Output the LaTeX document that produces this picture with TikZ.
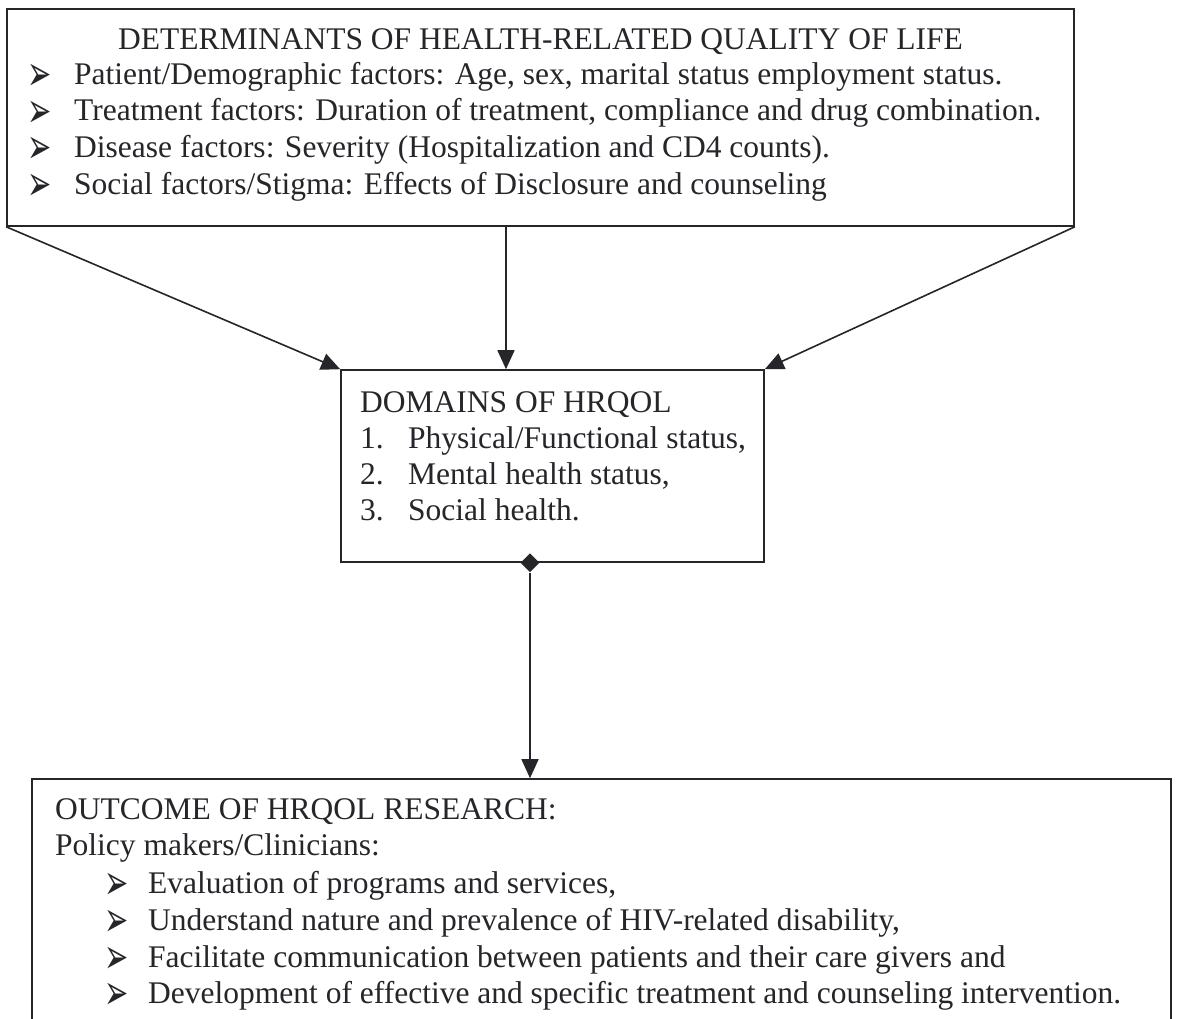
\documentclass[tikz,border=0pt]{standalone}
\usepackage{fontspec}
\setmainfont{Liberation Serif}
\newfontfamily\dejavu{DejaVu Sans}
\usetikzlibrary{arrows.meta,shapes.geometric}
\definecolor{ink}{RGB}{38,38,42}
\newcommand{\arrbul}{\smash{\scalebox{1}[1.7]{➢}}}
\begin{document}
\begin{tikzpicture}[x=1pt,y=-1pt,
  box/.style={draw=ink, line width=1.6pt, inner sep=0pt},
  txt/.style={anchor=base west, inner sep=0pt, text=ink, font=\fontsize{31.5}{37}\selectfont},
  bul/.style={anchor=base west, inner sep=0pt, text=ink, font=\dejavu\fontsize{29}{29}\selectfont},
  link/.style={draw=ink, line width=1.6pt, -{Triangle[length=19pt,width=17pt]}}]
\clip (0,0) rectangle (1178,1018);
\fill[white] (0,0) rectangle (1178,1018);
% boxes
\node[box, minimum width=1067pt, minimum height=217pt] (top) at (540.5,117.5) {};
\node[box, minimum width=423pt, minimum height=192pt] (mid) at (552.5,466) {};
\node[box, minimum width=1139pt, minimum height=280pt] (bot) at (601.5,919) {};
% top text
\node[txt, anchor=base] (t0) at (540.5,49) {DETERMINANTS OF HEALTH-RELATED QUALITY OF LIFE};
\node[bul] (tb1) at (27,90.5) {\arrbul};
\node[txt] (t1) at (74,84) {Patient/Demographic factors: Age, sex, marital status employment status.};
\node[bul] (tb2) at (27,127) {\arrbul};
\node[txt] (t2) at (74,120.5) {Treatment factors: Duration of treatment, compliance and drug combination.};
\node[bul] (tb3) at (27,163.5) {\arrbul};
\node[txt] (t3) at (74,157) {Disease factors: Severity (Hospitalization and CD4 counts).};
\node[bul] (tb4) at (27,200.5) {\arrbul};
\node[txt] (t4) at (74,194) {Social factors/Stigma: Effects of Disclosure and counseling};
% middle text
\node[txt] (m0) at (360,412) {DOMAINS OF HRQOL};
\node[txt] (mn1) at (360,448) {1.};
\node[txt] (m1) at (408,448) {Physical/Functional status,};
\node[txt] (mn2) at (360,484) {2.};
\node[txt] (m2) at (408,484) {Mental health status,};
\node[txt] (mn3) at (360,520) {3.};
\node[txt] (m3) at (408,520) {Social health.};
% bottom text
\node[txt] (b0) at (55,819) {OUTCOME OF HRQOL RESEARCH:};
\node[txt] (b1) at (55,855) {Policy makers/Clinicians:};
\node[bul] (bb1) at (104,899.5) {\arrbul};
\node[txt] (b2) at (148,893) {Evaluation of programs and services,};
\node[bul] (bb2) at (104,936.5) {\arrbul};
\node[txt] (b3) at (148,930) {Understand nature and prevalence of HIV-related disability,};
\node[bul] (bb3) at (104,973.5) {\arrbul};
\node[txt] (b4) at (148,967) {Facilitate communication between patients and their care givers and};
\node[bul] (bb4) at (104,1009.5) {\arrbul};
\node[txt] (b5) at (148,1003) {Development of effective and specific treatment and counseling intervention.};
% connectors
\coordinate (c1) at (506,0);
\coordinate (c2) at (530,0);
\draw[link] (top.south west) -- (mid.north west);
\draw[link] (top.south -| c1) -- (mid.north -| c1);
\draw[link] (top.south east) -- (mid.north east);
\node[diamond, fill=ink, inner sep=0pt, minimum width=19pt, minimum height=19pt] (dm) at (mid.south -| c2) {};
\draw[link] (dm.south) -- (bot.north -| dm);
\end{tikzpicture}
\end{document}
